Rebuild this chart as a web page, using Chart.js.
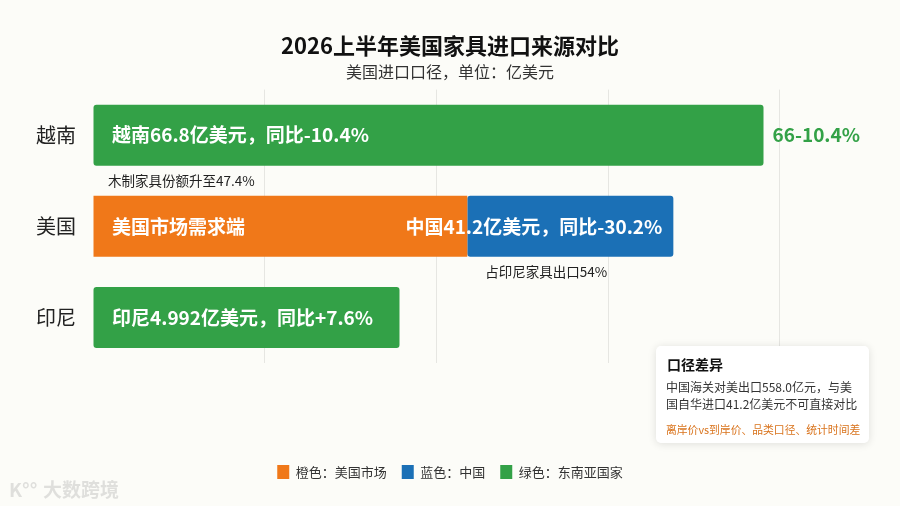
<!DOCTYPE html>
<html>
<head>
<meta charset="utf-8">
<script src="https://cdn.jsdelivr.net/npm/chart.js@4"></script>
<style>
  html, body { margin: 0; padding: 0; background: #fcfcf8; }
  #wrap { width: 900px; height: 506px; position: relative; }
</style>
</head>
<body>
<div id="wrap"><canvas id="chart" width="900" height="506"></canvas></div>
<script>
// categories (y axis)
let categories = ['越南', '美国', '印尼'];
// drawn bar lengths (gridline step = 20)
let greenValues = [78.1, 0, 35.7];
let orangeValues = [0, 43.6, 0];
let blueValues = [0, 24.0, 0];
let gridTicks = [0, 20, 40, 60, 80];
// texts on the bars
let barLabels = ['越南66.8亿美元，同比-10.4%', '美国市场需求端', '印尼4.992亿美元，同比+7.6%'];
let chinaLabel = '中国41.2亿美元，同比-30.2%';
let vietnamSideLabel = '66-10.4%';
let vietnamNote = '木制家具份额升至47.4%';
let chinaNote = '占印尼家具出口54%';
let legendNames = ['橙色：美国市场', '蓝色：中国', '绿色：东南亚国家'];

const FONT = '"Noto Sans CJK SC", "Noto Sans", sans-serif';
const GREEN = '#33a147';
const ORANGE = '#f07819';
const BLUE = '#1b70b6';

const labelsPlugin = {
    id: 'barTexts',
    afterDatasetsDraw(chart) {
        const ctx = chart.ctx;
        const x = chart.scales.x;
        const green = chart.getDatasetMeta(2).data;
        const orange = chart.getDatasetMeta(0).data;
        const blue = chart.getDatasetMeta(1).data;
        const x0 = x.getPixelForValue(0);
        ctx.save();
        ctx.textBaseline = 'middle';
        // white texts in bars
        ctx.fillStyle = '#ffffff';
        ctx.font = 'bold 19px ' + FONT;
        ctx.textAlign = 'left';
        ctx.fillText(barLabels[0], x0 + 19, green[0].y);
        ctx.fillText(barLabels[1], x0 + 19, orange[1].y);
        ctx.fillText(barLabels[2], x0 + 19, green[2].y);
        ctx.textAlign = 'right';
        ctx.fillText(chinaLabel, blue[1].x - 11, blue[1].y);
        // green text right of the vietnam bar
        ctx.fillStyle = GREEN;
        ctx.textAlign = 'left';
        ctx.fillText(vietnamSideLabel, green[0].x + 9, green[0].y);
        // small notes
        ctx.fillStyle = '#222';
        ctx.font = '13.5px ' + FONT;
        ctx.fillText(vietnamNote, x0 + 15, green[0].y + green[0].height / 2 + 15);
        ctx.fillText(chinaNote, orange[1].x + 18, blue[1].y + blue[1].height / 2 + 15);

        // note box
        const bx = 656, by = 346, bw = 213, bh = 97;
        ctx.shadowColor = 'rgba(0,0,0,0.12)';
        ctx.shadowBlur = 8;
        ctx.shadowOffsetY = 1;
        ctx.fillStyle = '#ffffff';
        ctx.beginPath();
        ctx.roundRect(bx, by, bw, bh, 5);
        ctx.fill();
        ctx.shadowColor = 'transparent';
        ctx.fillStyle = '#111';
        ctx.font = 'bold 14px ' + FONT;
        ctx.fillText('口径差异', bx + 11, by + 19);
        ctx.fillStyle = '#333';
        ctx.font = '12px ' + FONT;
        ctx.fillText('中国海关对美出口558.0亿元，与美', bx + 10, by + 41);
        ctx.fillText('国自华进口41.2亿美元不可直接对比', bx + 10, by + 58);
        ctx.fillStyle = '#d9731c';
        ctx.font = '10.8px ' + FONT;
        ctx.fillText('离岸价vs到岸价、品类口径、统计时间差', bx + 10, by + 84);

        // watermark
        ctx.fillStyle = 'rgba(170,170,170,0.35)';
        ctx.font = 'bold 19px ' + FONT;
        ctx.fillText('K°°', 9, 490);
        ctx.fillText('大数跨境', 43, 490);
        ctx.restore();
    }
};

function initChart() {
    const ctx = document.getElementById('chart').getContext('2d');
    new Chart(ctx, {
        type: 'bar',
        data: {
            labels: categories,
            datasets: [
                { label: legendNames[0], data: orangeValues, backgroundColor: ORANGE },
                { label: legendNames[1], data: blueValues, backgroundColor: BLUE },
                { label: legendNames[2], data: greenValues, backgroundColor: GREEN }
            ]
        },
        options: {
            indexAxis: 'y',
            responsive: false,
            animation: false,
            layout: { padding: { top: 29, right: 0, left: 0, bottom: 17 } },
            datasets: {
                bar: {
                    categoryPercentage: 0.67,
                    barPercentage: 1.0,
                    borderRadius: 3,
                    borderSkipped: false
                }
            },
            scales: {
                x: {
                    stacked: true,
                    min: 0,
                    max: 94,
                    ticks: { display: false },
                    afterBuildTicks(scale) { scale.ticks = gridTicks.map(v => ({ value: v })); },
                    border: { display: false },
                    grid: {
                        drawTicks: false,
                        color: c => (c.tick && c.tick.value === 0) ? 'rgba(0,0,0,0)' : '#e6e6e2'
                    },
                    afterFit(scale) { scale.height = 87; }
                },
                y: {
                    stacked: true,
                    border: { display: false },
                    grid: { display: false, drawTicks: false },
                    ticks: {
                        color: '#222',
                        font: { size: 20, family: FONT },
                        padding: 17
                    },
                    afterFit(scale) { scale.width = 93; }
                }
            },
            plugins: {
                legend: {
                    position: 'bottom',
                    labels: {
                        boxWidth: 12,
                        boxHeight: 14,
                        color: '#333',
                        font: { size: 13, family: FONT },
                        padding: 15
                    }
                },
                title: {
                    display: true,
                    text: '2026上半年美国家具进口来源对比',
                    color: '#111',
                    font: { size: 22, weight: 'bold', family: FONT },
                    padding: { top: 3, bottom: 4 }
                },
                subtitle: {
                    display: true,
                    text: '美国进口口径，单位：亿美元',
                    color: '#333',
                    font: { size: 16, family: FONT },
                    padding: { top: 0, bottom: 8 }
                },
                tooltip: { enabled: false }
            }
        },
        plugins: [labelsPlugin]
    });
}

initChart();
</script>
</body>
</html>
